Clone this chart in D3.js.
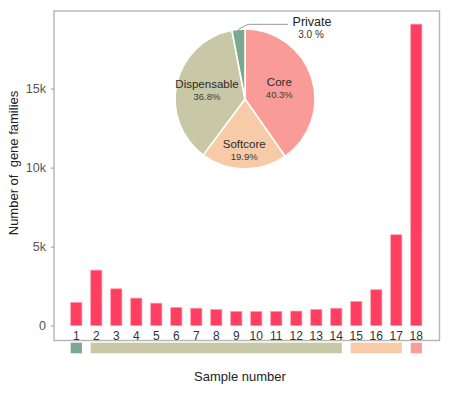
<!DOCTYPE html>
<html>
<head>
<meta charset="utf-8">
<script src="https://cdn.jsdelivr.net/npm/d3@7"></script>
<style>
  body { margin: 0; background: #fff; }
  text { font-family: "Liberation Sans", Arial, sans-serif; }
</style>
</head>
<body>
<div id="chart"></div>
<script>
// bar data: number of gene families found in exactly n samples
const samples = d3.range(1, 19);
const families = [1470, 3510, 2330, 1740, 1420, 1150, 1100, 1020, 900, 890, 900, 920, 1020, 1100, 1530, 2270, 5750, 19080];
const yTicks = [0, 5000, 10000, 15000];

// category strips under the axis
const groupNames = ["Private", "Dispensable", "Softcore", "Core"];
const groupStart = [1, 2, 15, 18];
const groupEnd = [1, 14, 17, 18];

// pie data
const pieNames = ["Core", "Softcore", "Dispensable", "Private"];
const piePercent = [40.3, 19.9, 36.8, 3.0];

const groupColor = {
    Core: "#f99c97",
    Softcore: "#f8cba8",
    Dispensable: "#c8c8a7",
    Private: "#7ba891"
};

const width = 456, height = 393;
const panel = { left: 54, right: 439.5, top: 11, bottom: 340.5 };

const svg = d3.select("#chart").append("svg")
    .attr("width", width)
    .attr("height", height);

const x = d3.scaleBand()
    .domain(samples)
    .range([66.3, 426.3])
    .paddingInner(0.44)
    .paddingOuter(0.22);

const y = d3.scaleLinear()
    .domain([0, 15000])
    .range([325.6, 88.6]);

// panel box
svg.append("rect")
    .attr("x", panel.left)
    .attr("y", panel.top)
    .attr("width", panel.right - panel.left)
    .attr("height", panel.bottom - panel.top)
    .attr("fill", "none")
    .attr("stroke", "#b5b5b5")
    .attr("stroke-width", 1.4);

// bars
svg.append("g").selectAll("rect")
    .data(samples)
    .enter().append("rect")
    .attr("x", d => x(d))
    .attr("width", x.bandwidth())
    .attr("y", (d, i) => y(families[i]))
    .attr("height", (d, i) => y(0) - y(families[i]))
    .attr("fill", "#ff3f62")
    .attr("stroke", "#ff9aaa")
    .attr("stroke-width", 0.7);

// y axis
const yAxis = svg.append("g")
    .attr("transform", `translate(${panel.left},0)`)
    .call(d3.axisLeft(y)
        .tickValues(yTicks)
        .tickSize(3)
        .tickPadding(5)
        .tickFormat(d => d === 0 ? "0" : (d / 1000) + "k"));
yAxis.select(".domain").remove();
yAxis.selectAll(".tick line").attr("stroke", "#999");
yAxis.selectAll(".tick text")
    .attr("fill", "#555")
    .style("font-size", "12.5px");

// x labels sit inside the panel
svg.append("g").selectAll("text")
    .data(samples)
    .enter().append("text")
    .attr("x", d => x(d) + x.bandwidth() / 2)
    .attr("y", 339.5)
    .attr("text-anchor", "middle")
    .attr("fill", "#333")
    .style("font-size", "12px")
    .text(d => d);

// group strips
svg.append("g").selectAll("rect")
    .data(groupNames)
    .enter().append("rect")
    .attr("x", (d, i) => x(groupStart[i]))
    .attr("width", (d, i) => x(groupEnd[i]) + x.bandwidth() - x(groupStart[i]))
    .attr("y", 342.7)
    .attr("height", 10.6)
    .attr("fill", d => groupColor[d]);

// axis titles
svg.append("text")
    .attr("x", 240)
    .attr("y", 381)
    .attr("text-anchor", "middle")
    .attr("fill", "#222")
    .style("font-size", "13px")
    .text("Sample number");

svg.append("text")
    .attr("transform", "translate(18,163) rotate(-90)")
    .attr("text-anchor", "middle")
    .attr("fill", "#222")
    .style("font-size", "13px")
    .style("white-space", "pre")
    .text("Number of  gene families");

// pie
const pieR = 70;
const pieG = svg.append("g").attr("transform", "translate(245,99)");
const pie = d3.pie().sort(null).value(d => d.value);
const arcs = pie(pieNames.map((n, i) => ({ name: n, value: piePercent[i] })));
const arc = d3.arc().innerRadius(0).outerRadius(pieR);

pieG.selectAll("path")
    .data(arcs)
    .enter().append("path")
    .attr("d", arc)
    .attr("fill", d => groupColor[d.data.name])
    .attr("stroke", "#fff")
    .attr("stroke-width", 1.6);

// inside labels (label radius tuned per slice)
const labelRadius = { Core: 36, Softcore: 51, Dispensable: 39 };
const inside = arcs.filter(d => d.data.name !== "Private");
inside.forEach(d => {
    const c = d3.arc().innerRadius(labelRadius[d.data.name]).outerRadius(labelRadius[d.data.name]).centroid(d);
    pieG.append("text")
        .attr("x", c[0])
        .attr("y", c[1] - 2)
        .attr("text-anchor", "middle")
        .attr("fill", "#2a2a2a")
        .style("font-size", "11.5px")
        .text(d.data.name);
    pieG.append("text")
        .attr("x", c[0])
        .attr("y", c[1] + 10)
        .attr("text-anchor", "middle")
        .attr("fill", "#3a3a3a")
        .style("font-size", "9.5px")
        .text(d.data.value.toFixed(1) + "%");
});

// outside label for the small slice
const priv = arcs.find(d => d.data.name === "Private");
const edge = d3.arc().innerRadius(pieR).outerRadius(pieR).centroid(priv);
const elbow = d3.arc().innerRadius(pieR + 5).outerRadius(pieR + 5).centroid(priv);
pieG.append("polyline")
    .attr("points", [edge, [elbow[0] + 10, elbow[1]], [43, elbow[1]]].map(p => p.join(",")).join(" "))
    .attr("fill", "none")
    .attr("stroke", "#999")
    .attr("stroke-width", 1);
pieG.append("text")
    .attr("x", 67)
    .attr("y", -73)
    .attr("text-anchor", "middle")
    .attr("fill", "#222")
    .style("font-size", "12.5px")
    .text("Private");
pieG.append("text")
    .attr("x", 66)
    .attr("y", -61.5)
    .attr("text-anchor", "middle")
    .attr("fill", "#333")
    .style("font-size", "10px")
    .text(priv.data.value.toFixed(1) + " %");
</script>
</body>
</html>
